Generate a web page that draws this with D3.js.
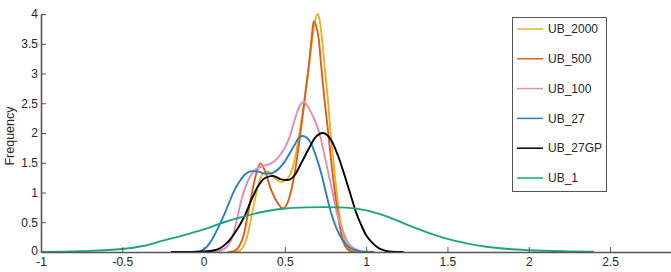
<!DOCTYPE html>
<html>
<head>
<meta charset="utf-8">
<script src="https://cdn.jsdelivr.net/npm/d3@7"></script>
<style>
  html, body { margin: 0; padding: 0; background: #fff; }
  svg { display: block; font-family: "Liberation Sans", Arial, Helvetica, sans-serif; }
</style>
</head>
<body>
<svg id="chart" width="671" height="272"></svg>
<script>
// ---- data ----
const seriesNames = ["UB_2000", "UB_500", "UB_100", "UB_27", "UB_27GP", "UB_1"];

const ub2000 = [[0.15,0],[0.2,0.005],[0.221,0.02],[0.25,0.12],[0.273,0.31],[0.303,0.71],[0.334,1.10],[0.365,1.32],[0.396,1.35],[0.437,1.24],[0.478,1.18],[0.519,1.24],[0.56,1.55],[0.59,2.0],[0.615,2.45],[0.64,2.95],[0.66,3.4],[0.68,3.8],[0.70,4.0],[0.715,3.88],[0.73,3.55],[0.745,3.1],[0.765,2.55],[0.78,2.05],[0.80,1.5],[0.825,0.85],[0.85,0.4],[0.875,0.15],[0.9,0.05],[0.93,0.01],[0.96,0]];

const ub500 = [[0.15,0],[0.19,0.02],[0.22,0.1],[0.25,0.32],[0.27,0.6],[0.293,0.93],[0.324,1.32],[0.349,1.49],[0.375,1.38],[0.416,1.04],[0.457,0.82],[0.488,0.73],[0.529,0.93],[0.57,1.49],[0.59,1.88],[0.61,2.3],[0.63,2.75],[0.65,3.2],[0.665,3.6],[0.677,3.88],[0.69,3.82],[0.709,3.56],[0.724,3.11],[0.744,2.55],[0.765,2.05],[0.79,1.4],[0.82,0.75],[0.847,0.3],[0.87,0.1],[0.9,0.02],[0.93,0]];

const ub100 = [[0.05,0],[0.1,0.02],[0.14,0.08],[0.17,0.2],[0.2,0.48],[0.23,0.85],[0.27,1.18],[0.3,1.33],[0.334,1.41],[0.37,1.45],[0.416,1.49],[0.45,1.56],[0.478,1.66],[0.505,1.78],[0.53,1.94],[0.56,2.22],[0.59,2.45],[0.615,2.52],[0.64,2.45],[0.67,2.3],[0.71,2.02],[0.75,1.55],[0.79,1.04],[0.82,0.65],[0.855,0.37],[0.89,0.15],[0.92,0.07],[0.96,0.02],[1.0,0]];

const ub27 = [[-0.08,0],[-0.03,0.01],[0.0,0.04],[0.03,0.12],[0.068,0.29],[0.1,0.47],[0.13,0.65],[0.16,0.85],[0.19,1.04],[0.22,1.18],[0.25,1.29],[0.3,1.36],[0.34,1.35],[0.375,1.32],[0.41,1.32],[0.44,1.35],[0.47,1.42],[0.5,1.52],[0.53,1.66],[0.56,1.80],[0.58,1.90],[0.605,1.95],[0.63,1.93],[0.66,1.83],[0.69,1.62],[0.724,1.32],[0.755,0.97],[0.785,0.65],[0.81,0.45],[0.836,0.29],[0.87,0.15],[0.9,0.07],[0.95,0.02],[1.0,0.003],[1.05,0]];

const ub27gp = [[-0.2,0],[-0.1,0.002],[0,0.01],[0.068,0.03],[0.1,0.06],[0.13,0.12],[0.16,0.2],[0.19,0.31],[0.22,0.44],[0.25,0.59],[0.293,0.87],[0.334,1.10],[0.375,1.24],[0.426,1.28],[0.478,1.22],[0.519,1.21],[0.56,1.29],[0.6,1.49],[0.642,1.71],[0.683,1.91],[0.734,2.0],[0.785,1.88],[0.836,1.55],[0.867,1.29],[0.9,1.0],[0.94,0.65],[0.97,0.45],[1.0,0.28],[1.04,0.15],[1.08,0.06],[1.12,0.02],[1.16,0.005],[1.23,0]];

const ub1 = [[-1,0.002],[-0.75,0.015],[-0.5,0.05],[-0.375,0.1],[-0.25,0.19],[-0.125,0.28],[0,0.38],[0.125,0.5],[0.25,0.6],[0.375,0.68],[0.5,0.73],[0.625,0.75],[0.75,0.755],[0.875,0.745],[1.0,0.70],[1.125,0.6],[1.25,0.46],[1.375,0.33],[1.5,0.22],[1.625,0.14],[1.75,0.085],[1.875,0.05],[2.0,0.03],[2.25,0.01],[2.4,0.003]];

const seriesData = [ub2000, ub500, ub100, ub27, ub27gp, ub1];
const seriesColors = ["#EDB120", "#DA5F1B", "#E08DBE", "#2680C2", "#000000", "#1AA57E"];

const xTicks = [-1, -0.5, 0, 0.5, 1, 1.5, 2, 2.5];
const xTickLabels = ["-1", "-0.5", "0", "0.5", "1", "1.5", "2", "2.5"];
const yTicks = [0, 0.5, 1, 1.5, 2, 2.5, 3, 3.5, 4];
const yTickLabels = ["0", "0.5", "1", "1.5", "2", "2.5", "3", "3.5", "4"];
const yLabel = "Frequency";

// ---- drawing ----
const svg = d3.select("#chart");
const x = d3.scaleLinear().domain([-1, 2.875]).range([41, 671]);
const y = d3.scaleLinear().domain([0, 4]).range([252, 14]);

const line = d3.line()
  .x(d => x(d[0]))
  .y(d => y(d[1]))
  .curve(d3.curveMonotoneX);

const axisColor = "#555";
const textColor = "#262626";

// curves
seriesData.forEach((s, i) => {
  svg.append("path")
    .datum(s)
    .attr("fill", "none")
    .attr("stroke", seriesColors[i])
    .attr("stroke-width", 1.9)
    .attr("stroke-linejoin", "round")
    .attr("d", line);
});

// axes
const xAxis = d3.axisBottom(x)
  .tickValues(xTicks)
  .tickFormat((d, i) => xTickLabels[i])
  .tickSizeInner(-5)
  .tickSizeOuter(0)
  .tickPadding(5);
const gx = svg.append("g").attr("transform", "translate(0,252)").call(xAxis);

const yAxis = d3.axisLeft(y)
  .tickValues(yTicks)
  .tickFormat((d, i) => yTickLabels[i])
  .tickSizeInner(-5)
  .tickSizeOuter(0)
  .tickPadding(3);
const gy = svg.append("g").attr("transform", "translate(41,0)").call(yAxis);

[gx, gy].forEach(g => {
  g.select(".domain").attr("stroke", axisColor).attr("stroke-width", 1.6);
  g.selectAll(".tick line").attr("stroke", axisColor).attr("stroke-width", 1);
  g.selectAll(".tick text").attr("fill", textColor).style("font-size", "12px")
    .style("font-family", "'Liberation Sans', Arial, sans-serif");
});
// nudge the y "0" label up a touch so it clears the x "-1" label
gy.selectAll(".tick text").filter((d) => d === 0).attr("dy", "0.2em");

// y label
svg.append("text")
  .attr("transform", "translate(14,136) rotate(-90)")
  .attr("text-anchor", "middle")
  .style("font-size", "12.5px")
  .attr("fill", textColor)
  .text(yLabel);

// legend
const lg = svg.append("g");
lg.append("rect")
  .attr("x", 512.5).attr("y", 17.5)
  .attr("width", 94).attr("height", 174)
  .attr("fill", "#fff")
  .attr("stroke", "#555").attr("stroke-width", 1);
seriesNames.forEach((name, i) => {
  const yy = 29 + i * 29.8;
  lg.append("line")
    .attr("x1", 517).attr("x2", 543)
    .attr("y1", yy).attr("y2", yy)
    .attr("stroke", seriesColors[i]).attr("stroke-width", 1.5);
  lg.append("text")
    .attr("x", 548).attr("y", yy)
    .attr("dy", "0.35em")
    .style("font-size", "12px")
    .attr("fill", textColor)
    .text(name);
});
</script>
</body>
</html>
